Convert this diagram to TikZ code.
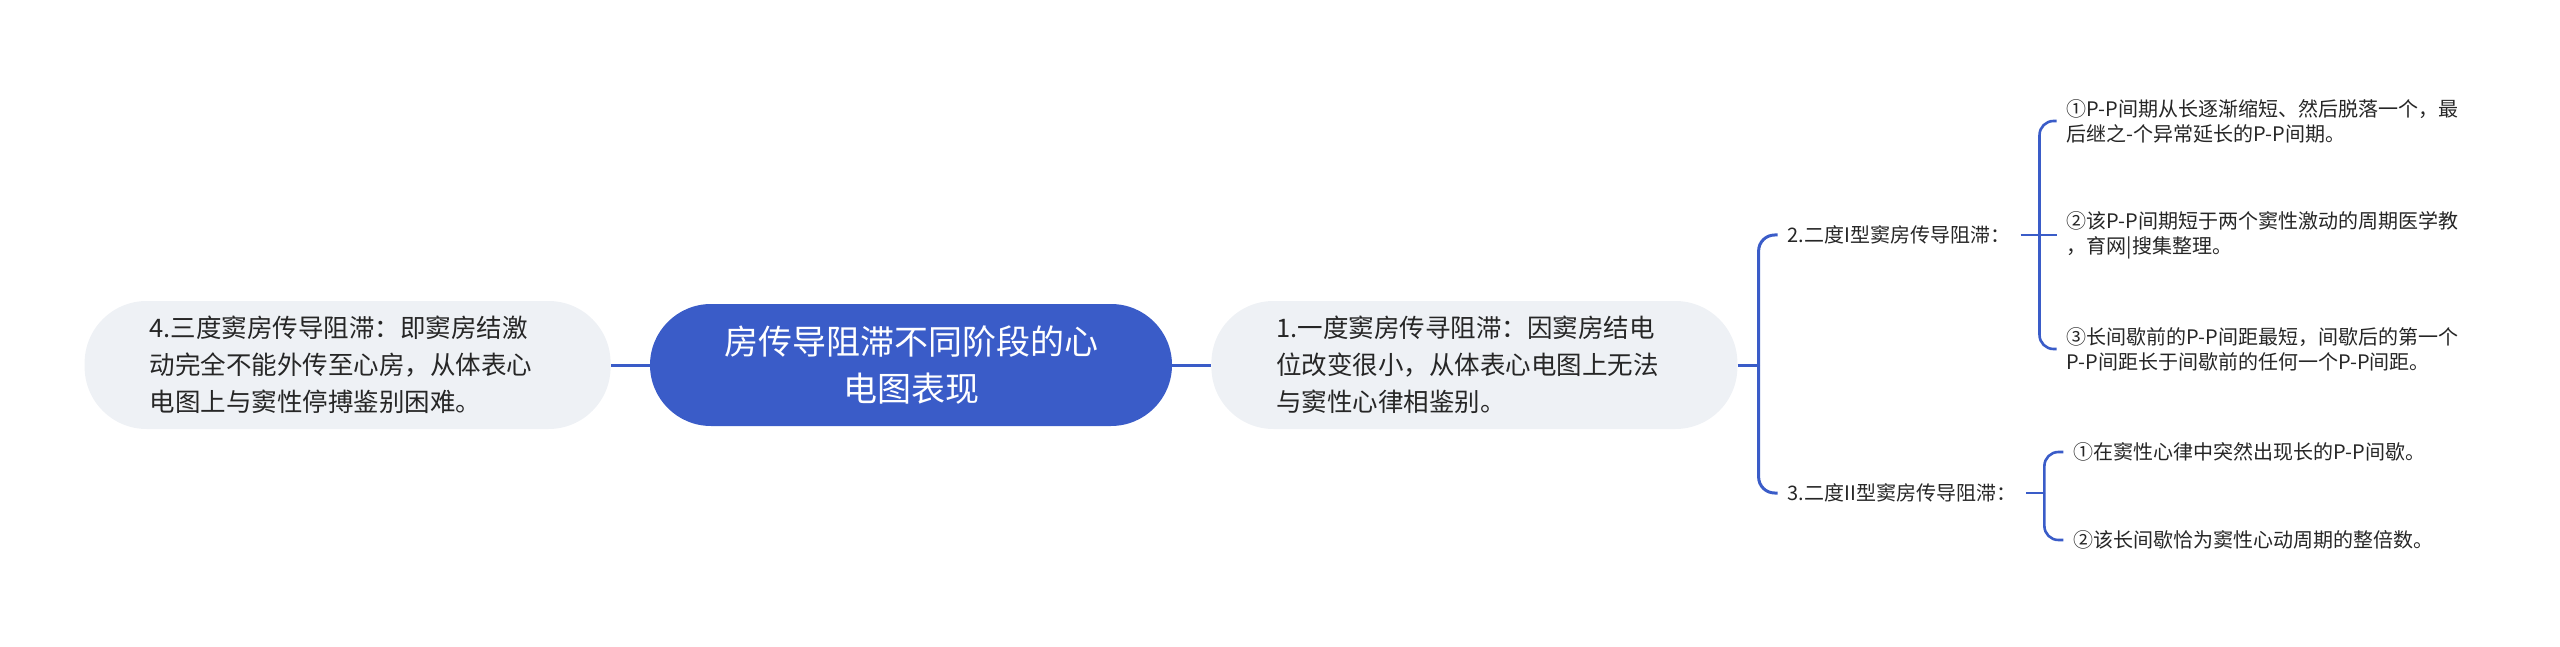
\documentclass[tikz,border=0pt]{standalone}
\usepackage{fontspec}
\setmainfont{Noto Sans CJK SC}
\usetikzlibrary{positioning}
\definecolor{blue1}{RGB}{58,92,200}
\definecolor{gray1}{RGB}{238,241,245}
\definecolor{text1}{RGB}{38,38,38}
\tikzset{
  rect1/.style = {
    shape = rectangle,
    fill = gray1,
    text = text1,
    text width = 396pt,
    inner xsep = 65pt,
    align = left,
    rounded corners = 62pt,
    minimum height = 128pt,
    font = \fontsize{25.5pt}{37pt}\selectfont,
  }
}
\tikzset{
  rect2/.style = {
    shape = rectangle,
    fill = blue1,
    text = white,
    text width = 400pt,
    inner xsep = 61pt,
    align = center,
    rounded corners = 61pt,
    minimum height = 122pt,
    font = \fontsize{34pt}{47pt}\selectfont,
  }
}
\tikzset{
  text1/.style = {
    text = text1,
    inner xsep = 10pt,
    align = left,
    font = \fontsize{20pt}{25pt}\selectfont,
  }
}
\tikzset{
  line1/.style = {
    draw = blue1, line width = 3pt,
  },
  line2/.style = {
    draw = blue1, line width = 2.6pt,
  }
}

\begin{document}
\begin{tikzpicture}[x = 1pt, y = -1pt]
        \useasboundingbox (0, 0) rectangle (2560, 647);
        \node[rect2](0) at (911, 365){房传导阻滞不同阶段的心\\电图表现};
        \node[rect1, left = 39pt of 0](4){4.三度窦房传导阻滞：即窦房结激\\动完全不能外传至心房，从体表心\\电图上与窦性停搏鉴别困难。};
        \node[rect1, right = 39pt of 0](1){1.一度窦房传寻阻滞：因窦房结电\\位改变很小，从体表心电图上无法\\与窦性心律相鉴别。};
        \node[text1, right = 40pt of 1, yshift = 130pt](2){2.二度I型窦房传导阻滞：};
        \node[text1, right = 40pt of 1, yshift = -128pt](3){3.二度II型窦房传导阻滞：};
        \node[text1, right = 36pt of 2, yshift = 114pt](21){①P-P间期从长逐渐缩短、然后脱落一个，最\\后继之-个异常延长的P-P间期。};
        \node[text1, right = 36pt of 2](22){②该P-P间期短于两个窦性激动的周期医学教\\，育网|搜集整理。};
        \node[text1, right = 36pt of 2, yshift = -114pt](23){③长间歇前的P-P间距最短，间歇后的第一个\\P-P间距长于间歇前的任何一个P-P间距。};
        \node[text1, right = 37pt of 3, yshift = 41pt](31){①在窦性心律中突然出现长的P-P间歇。};
        \node[text1, right = 37pt of 3, yshift = -47pt](32){②该长间歇恰为窦性心动周期的整倍数。};
        \draw[line1](0.west) -- (4.east);
        \draw[line1](0.east) -- (1.west);
        \draw[line1](1.east) -- ++(21, 0) coordinate (k1);
        \draw[line1, rounded corners = 16pt](k1) |- (2.west);
        \draw[line1, rounded corners = 16pt](k1) |- (3.west);
        \draw[line2](2.east) -- ++(19, 0) coordinate (k2);
        \draw[line2, rounded corners = 14pt](k2) |- (21.west);
        \draw[line2](k2) -- (22.west);
        \draw[line2, rounded corners = 14pt](k2) |- (23.west);
        \draw[line2](3.east) -- ++(18, 0) coordinate (k3);
        \draw[line2, rounded corners = 14pt](k3) |- (31.west);
        \draw[line2, rounded corners = 14pt](k3) |- (32.west);
    \end{tikzpicture}
\end{document}
